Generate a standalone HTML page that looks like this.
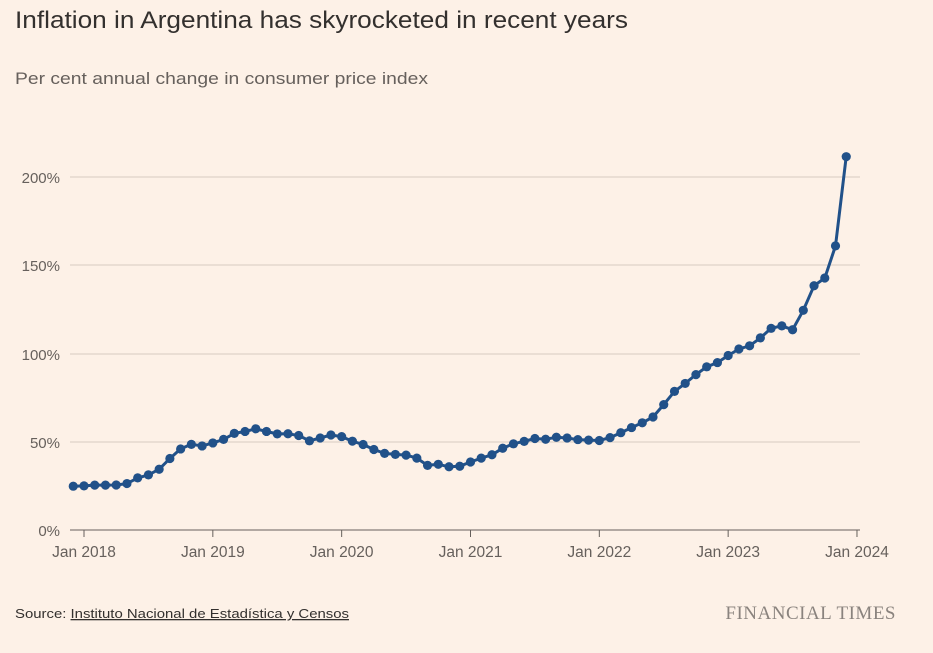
<!DOCTYPE html>
<html><head><meta charset="utf-8"><style>
body{margin:0;background:#fdf1e7;width:933px;height:648px;overflow:hidden;font-family:"Liberation Sans",sans-serif;}
</style></head><body>
<svg width="933" height="648" xmlns="http://www.w3.org/2000/svg">
<rect width="933" height="648" fill="#fdf1e7"/>
<text x="15" y="28" font-size="24" fill="#33302e" textLength="613" lengthAdjust="spacingAndGlyphs">Inflation in Argentina has skyrocketed in recent years</text>
<text x="15" y="84" font-size="17" fill="#66605c" textLength="413" lengthAdjust="spacingAndGlyphs">Per cent annual change in consumer price index</text>
<g stroke="#d6ccc2" stroke-width="1">
<line x1="70" x2="860" y1="177" y2="177"/><line x1="70" x2="860" y1="265" y2="265"/>
<line x1="70" x2="860" y1="354" y2="354"/><line x1="70" x2="860" y1="442" y2="442"/>
</g>
<line x1="70" x2="860" y1="530" y2="530" stroke="#66605c" stroke-width="1"/>
<g font-size="15" fill="#66605c" text-anchor="end">
<text x="60" y="183">200%</text><text x="60" y="271">150%</text><text x="60" y="360">100%</text>
<text x="60" y="448">50%</text><text x="60" y="536">0%</text>
</g>
<g id="xt" stroke="#66605c"></g>
<g id="xl" font-size="15.5" fill="#66605c" text-anchor="middle"></g>
<polyline id="ln" fill="none" stroke="#215189" stroke-width="3" stroke-linejoin="round"/>
<g id="pts" fill="#215189"></g>
<text x="15" y="618" font-size="13" fill="#33302e" textLength="334" lengthAdjust="spacingAndGlyphs">Source: <tspan text-decoration="underline">Instituto Nacional de Estadística y Censos</tspan></text>
<text x="896" y="619" font-size="19" fill="#8a837e" text-anchor="end" font-family="Liberation Serif,serif" letter-spacing="0.5">FINANCIAL TIMES</text>
</svg>
<script>
var d=[24.8,25,25.4,25.4,25.5,26.3,29.5,31.2,34.4,40.5,45.9,48.5,47.6,49.3,51.3,54.7,55.8,57.3,55.8,54.4,54.5,53.5,50.5,52.1,53.8,52.9,50.3,48.4,45.6,43.4,42.8,42.4,40.7,36.6,37.2,35.8,36.1,38.5,40.7,42.6,46.3,48.8,50.2,51.8,51.4,52.5,52.1,51.2,50.9,50.7,52.3,55.1,58,60.7,64,71,78.5,83,88,92.4,94.8,98.8,102.5,104.3,108.8,114.2,115.6,113.4,124.4,138.3,142.7,160.9,211.4];
var ns="http://www.w3.org/2000/svg",p=[],g=document.getElementById('pts');
d.forEach(function(v,i){var x=84+(i-1)*128.83/12,y=530-v*1.766;p.push(x.toFixed(1)+','+y.toFixed(1));
var c=document.createElementNS(ns,'circle');c.setAttribute('cx',x);c.setAttribute('cy',y);c.setAttribute('r',4.6);g.appendChild(c);});
document.getElementById('ln').setAttribute('points',p.join(' '));
var xt=document.getElementById('xt'),xl=document.getElementById('xl');
for(var k=0;k<7;k++){var x=84+k*128.83;var l=document.createElementNS(ns,'line');l.setAttribute('x1',x);l.setAttribute('x2',x);l.setAttribute('y1',530);l.setAttribute('y2',537);xt.appendChild(l);
var t=document.createElementNS(ns,'text');t.setAttribute('x',x);t.setAttribute('y',557);t.textContent='Jan '+(2018+k);xl.appendChild(t);}
</script>
</body></html>
